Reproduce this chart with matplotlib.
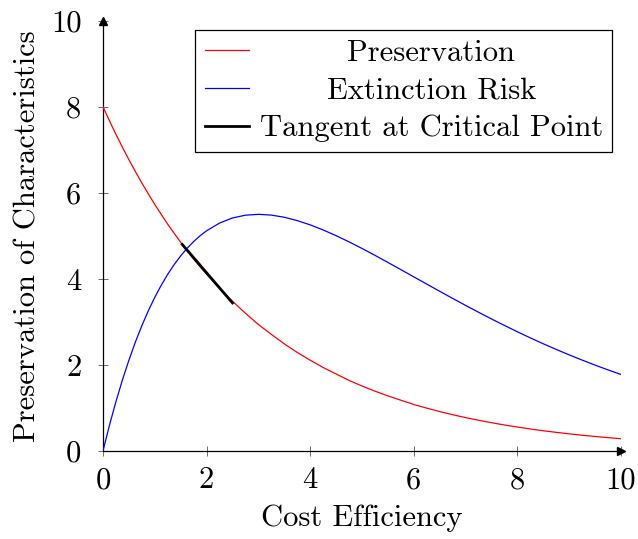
import matplotlib
matplotlib.use("Agg")
import matplotlib.pyplot as plt

plt.rcParams['font.family'] = 'serif'
plt.rcParams['font.serif'] = ['cmr10']
plt.rcParams['mathtext.fontset'] = 'cm'
plt.rcParams['axes.formatter.use_mathtext'] = True

x_vals = [0, 0.125, 0.25, 0.375, 0.5, 0.625, 0.75, 0.875, 1.0, 1.125, 1.25, 1.375, 1.5, 1.625,
          1.75, 1.875, 2.0, 2.25, 2.5, 2.75, 3.0, 3.25, 3.5, 3.75,
          4.0, 4.25, 4.5, 4.75, 5.0, 5.25, 5.5, 5.75, 6.0, 6.25, 6.5, 6.75, 7.0, 7.25, 7.5, 7.75,
          8.0, 8.25, 8.5, 8.75, 9.0, 9.25, 9.5, 9.75, 10.0]
preservation = [8.00, 7.674, 7.36, 7.060, 6.77, 6.496, 6.23, 5.976, 5.73, 5.498, 5.27, 5.059,
                4.85, 4.654, 4.46, 4.282, 4.11, 3.78, 3.48, 3.20, 2.94, 2.71,
                2.49, 2.29, 2.11, 1.94, 1.79, 1.64, 1.51, 1.39, 1.28, 1.18, 1.08, 0.996, 0.916,
                0.843, 0.776, 0.714, 0.657, 0.604, 0.556, 0.511, 0.470, 0.433, 0.398, 0.366,
                0.337, 0.310, 0.285]
extinction = [0.0, 0.598, 1.146, 1.649, 2.109, 2.529, 2.911, 3.258, 3.571, 3.853, 4.107, 4.333,
              4.534, 4.712, 4.867, 5.002, 5.117, 5.297, 5.415, 5.480,
              5.500, 5.482, 5.432, 5.354, 5.255, 5.137, 5.004, 4.860, 4.707, 4.547, 4.382, 4.215,
              4.047, 3.879, 3.711, 3.546, 3.383, 3.224, 3.068, 2.917, 2.770, 2.628, 2.491, 2.360,
              2.233, 2.112, 1.995, 1.884, 1.778]
tangent_x = [1.53, 2.50]
tangent_y = [4.80, 3.44]
ticks = [0, 2, 4, 6, 8, 10]

FS = 22
fig = plt.figure(figsize=(6.38, 5.39), dpi=100)
ax = fig.add_axes([0.1614, 0.1633, 0.9734 - 0.1614, 0.9616 - 0.1633])

ax.plot(x_vals, preservation, color='#ff0000', lw=0.9, label='Preservation', zorder=3)
ax.plot(x_vals, extinction, color='#0000ff', lw=0.9, label='Extinction Risk', zorder=3)
ax.plot(tangent_x, tangent_y, color='black', lw=2.0, label='Tangent at Critical Point', zorder=4)

ax.set_xlim(0, 10)
ax.set_ylim(0, 10)
ax.set_xticks(ticks)
ax.set_yticks(ticks)
ax.set_xticklabels([str(t) for t in ticks])
ax.set_yticklabels([str(t) for t in ticks])

for s in ['top', 'right']:
    ax.spines[s].set_visible(False)
ax.spines['left'].set_position(('data', 0))
ax.spines['bottom'].set_position(('data', 0))
ax.spines['left'].set_linewidth(0.9)
ax.spines['bottom'].set_linewidth(0.9)
ax.tick_params(direction='inout', length=7, width=0.6, labelsize=FS, color='#555555')
ax.tick_params(axis='y', pad=12)
ax.tick_params(axis='x', pad=8)

ax.plot(1, 0, marker='>', color='black', markersize=6, transform=ax.transAxes, clip_on=False)
ax.plot(0, 1, marker='^', color='black', markersize=6, transform=ax.transAxes, clip_on=False)

ax.set_xlabel('Cost Efficiency', fontsize=FS, labelpad=7)
ax.set_ylabel('Preservation of Characteristics', fontsize=FS, labelpad=7)

leg = ax.legend(loc='upper right', bbox_to_anchor=(0.983, 0.978), fontsize=FS, frameon=True,
                fancybox=False, edgecolor='black', framealpha=1, handlelength=1.45,
                handletextpad=0.36, borderpad=0.3, labelspacing=0.34, borderaxespad=0)
leg.get_frame().set_linewidth(0.9)

fig.canvas.draw()
texts = leg.get_texts()
widths = [t.get_window_extent().width for t in texts]
W = max(widths)
for t, w in zip(texts, widths):
    t.set_x((W - w) / 2)

fig.savefig('out.png', dpi=100)
